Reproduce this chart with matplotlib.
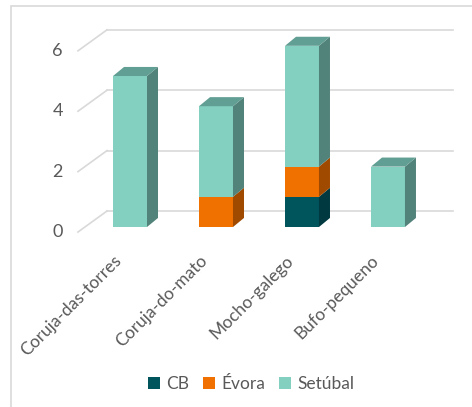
import matplotlib.pyplot as plt
from matplotlib.patches import Patch, Polygon, Rectangle

categories = ["Coruja-das-torres", "Coruja-do-mato", "Mocho-galego", "Bufo-pequeno"]
cb = [0, 0, 1, 0]
evora = [0, 1, 1, 0]
setubal = [5, 3, 4, 2]
yticks = [0, 2, 4, 6]

series = [
    ("CB", cb, "#00545C", "#003A40", "#00454C"),
    ("Évora", evora, "#F07000", "#A04A00", "#C05A00"),
    ("Setúbal", setubal, "#83D0C0", "#52837A", "#619E93"),
]

plt.rcParams['font.family'] = ['Lato', 'DejaVu Sans']
grid_color = "#D9D9D9"
text_color = "#595959"

fig = plt.figure(figsize=(4.72, 4.07), dpi=100)
ax = fig.add_axes([0, 0, 1, 1])
# one x unit = 86 px, one y unit = 30.2 px
ax.set_xlim(-1.512, 3.977)
ax.set_ylim(-5.96, 7.517)
ax.axis('off')

# outer chart border
fig.patches.append(Rectangle((11 / 472, -0.1), 1.2, 1.1 - 6 / 407, transform=fig.transFigure,
                             fill=False, edgecolor=grid_color, lw=1.2))

# back wall gridlines with floor-side diagonals
wall_dx, wall_dy = 0.337, 0.695
front_x, front_off = -0.605, -0.166
for v in yticks:
    yb = v + front_off + wall_dy
    ax.plot([front_x, front_x + wall_dx], [v + front_off, yb], color=grid_color, lw=1.2)
    ax.plot([front_x + wall_dx, 3.756], [yb, yb], color=grid_color, lw=1.2)
    ax.text(-0.78, v + front_off, str(v), ha='right', va='center', fontsize=13, color=text_color)

# stacked bars with a side and top face for depth
width, dx, dy = 0.395, 0.128, 0.3
x = list(range(len(categories)))
bottoms = [0] * len(categories)
totals = [a + b + c for a, b, c in zip(cb, evora, setubal)]
for name, vals, front, side, top in series:
    ax.bar(x, vals, width=width, bottom=bottoms, color=front, zorder=3)
    for i, v in enumerate(vals):
        if v == 0:
            continue
        x1 = x[i] + width / 2
        y0, y1 = bottoms[i], bottoms[i] + v
        ax.add_patch(Polygon([(x1, y0), (x1 + dx, y0 + dy), (x1 + dx, y1 + dy), (x1, y1)],
                             closed=True, facecolor=side, edgecolor='none', zorder=3))
        if y1 == totals[i]:
            x0 = x[i] - width / 2
            ax.add_patch(Polygon([(x0, y1), (x1, y1), (x1 + dx, y1 + dy), (x0 + dx, y1 + dy)],
                                 closed=True, facecolor=top, edgecolor='none', zorder=3))
    bottoms = [b + v for b, v in zip(bottoms, vals)]

for i, name in enumerate(categories):
    ax.text(x[i] - 0.2, -0.85, name, rotation=45, rotation_mode='anchor',
            ha='right', va='top', fontsize=12.5, color=text_color)

handles = [Patch(facecolor=s[2]) for s in series]
fig.legend(handles, [s[0] for s in series], loc='center', bbox_to_anchor=(0.532, 0.056),
           ncol=3, frameon=False, fontsize=12.5, labelcolor=text_color,
           handlelength=0.7, handleheight=0.7, handletextpad=0.35, columnspacing=0.8)

fig.savefig("out.png", dpi=100)
